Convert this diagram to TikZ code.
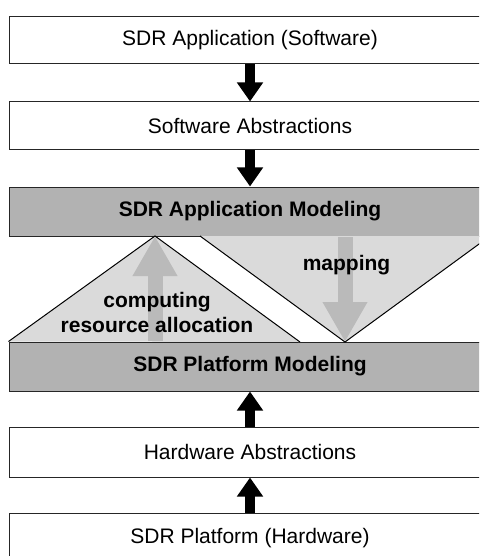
\documentclass[tikz,border=0pt]{standalone}
\usepackage{fontspec}
\setmainfont{Liberation Sans}
\usetikzlibrary{arrows.meta}
\definecolor{boxgray}{RGB}{178,178,178}
\definecolor{trigray}{RGB}{218,218,218}
\definecolor{arrowgray}{RGB}{186,186,186}
\tikzset{
 layer/.style={draw=black!85, line width=1pt, minimum width=482pt, inner sep=0pt, font=\fontsize{21}{25}\selectfont},
 modlayer/.style={layer, fill=boxgray, font=\fontsize{21}{25}\selectfont\bfseries},
 blackarrow/.style={line width=10pt, -{Triangle[length=19pt,width=25pt]}},
 grayarrow/.style={arrowgray, line width=15pt, -{Triangle[length=40pt,width=42pt]}},
 tri/.style={fill=trigray},
 triline/.style={draw=black, line width=1pt, line join=miter}
}

\begin{document}
\begin{tikzpicture}[x=1pt,y=-1pt]
\useasboundingbox (0,0) rectangle (479,556);
\clip (0,0) rectangle (479,556);
% layers
\node[layer, minimum height=47pt] (app) at (250,40.5) {SDR Application (Software)};
\node[layer, minimum height=48pt] (swabs) at (250,126) {Software Abstractions};
\node[modlayer, minimum height=49pt] (appmod) at (250,211.5) {SDR Application Modeling};
\node[modlayer, minimum height=49pt] (platmod) at (250,366.5) {SDR Platform Modeling};
\node[layer, minimum height=50pt] (hwabs) at (250,452) {Hardware Abstractions};
\node[layer, minimum height=50pt] (plat) at (250,538) {SDR Platform (Hardware)};
% triangles between the modeling layers
\coordinate (alloctop) at (155,236);
\coordinate (mapbot) at (345,342);
\fill[tri] (platmod.north west) -- (alloctop) -- (300,342) -- cycle;
\fill[tri] (200,236) -- (mapbot) -- (490,236) -- cycle;
\draw[triline] (platmod.north west) -- (alloctop) -- (300,342);
\draw[triline] (200,236) -- (mapbot) -- (490,236);
\draw[grayarrow] (155,341) -- (alloctop);
\draw[grayarrow] (345,237) -- (mapbot);
\node[font=\fontsize{21}{25}\selectfont\bfseries, align=center] (alloc) at (157,312) {computing\\resource allocation};
\node[font=\fontsize{21}{25}\selectfont\bfseries] (map) at (346.5,265) {mapping};
% black arrows
\draw[blackarrow] (app.south) -- (swabs.north);
\draw[blackarrow] (swabs.south) -- (appmod.north);
\draw[blackarrow] (hwabs.north) -- (platmod.south);
\draw[blackarrow] (plat.north) -- (hwabs.south);
\end{tikzpicture}
\end{document}
